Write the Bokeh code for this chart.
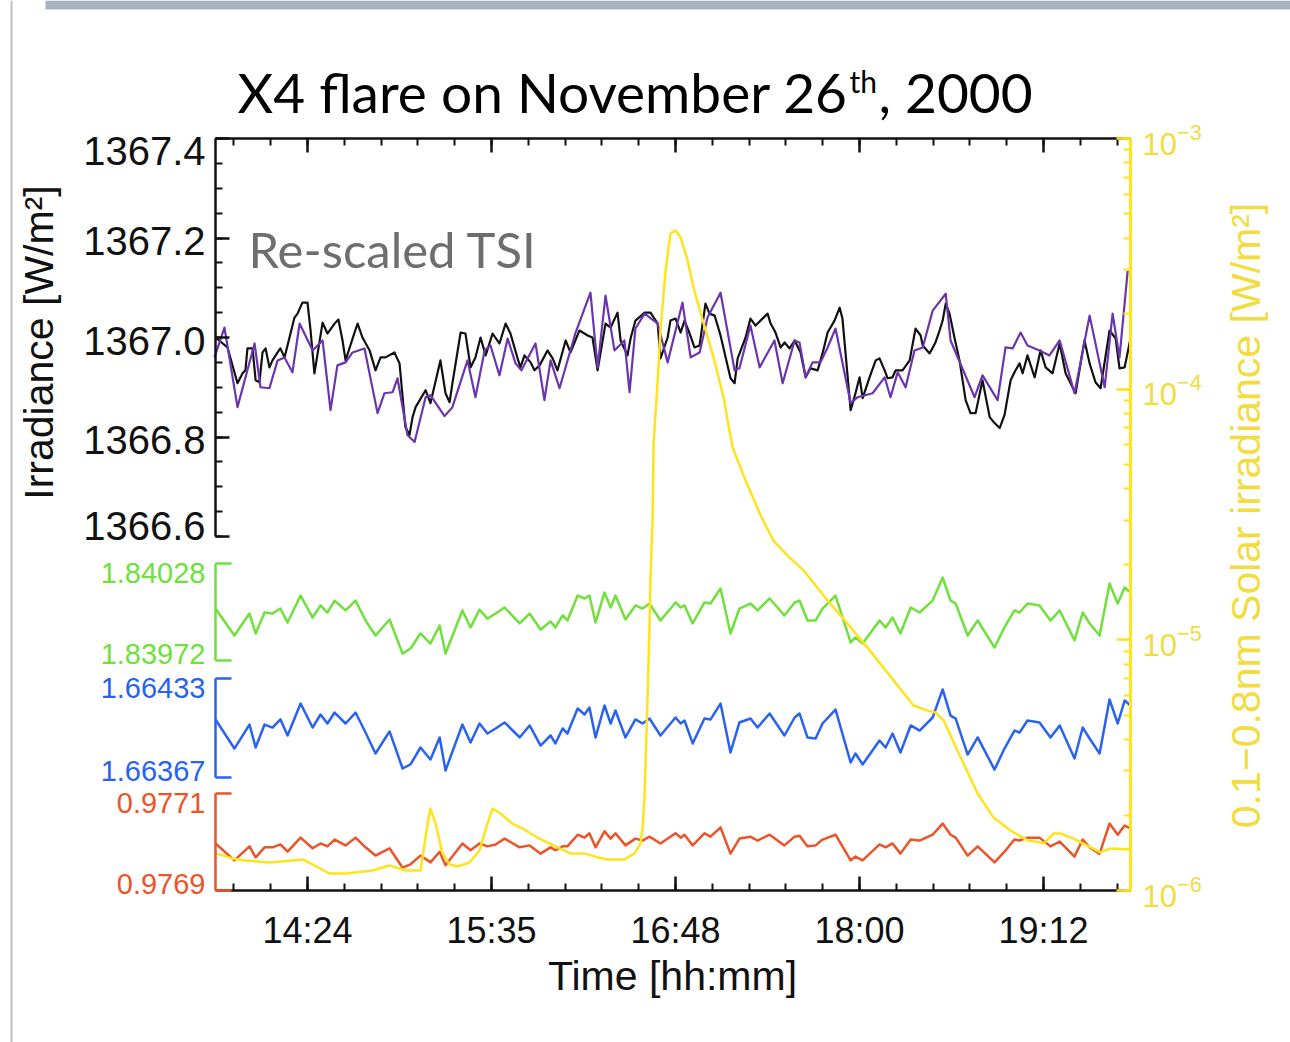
import numpy as np
from bokeh.plotting import figure
from bokeh.models import (Range1d, LinearAxis, LogAxis, LogScale, FixedTicker,
                          LogTicker, Label, CustomJSTickFormatter, Span,
                          BoxAnnotation)
from bokeh.embed import file_html
from bokeh.resources import INLINE

# ---------------- data (time in minutes after 00:00 UT) ----------------
TIME_TICKS = [864, 936, 1008, 1080, 1152]
TIME_LABELS = ["14:24", "15:35", "16:48", "18:00", "19:12"]
TSI_TICKS = [1366.6, 1366.8, 1367.0, 1367.2, 1367.4]
TSI_LABELS = ["1366.6", "1366.8", "1367.0", "1367.2", "1367.4"]
GREEN_TICKS = [1.83972, 1.84028]
GREEN_LABELS = ["1.83972", "1.84028"]
BLUE_TICKS = [1.66367, 1.66433]
BLUE_LABELS = ["1.66367", "1.66433"]
RED_TICKS = [0.9769, 0.9771]
RED_LABELS = ["0.9769", "0.9771"]
XRAY_LIMITS = [1e-6, 1e-3]

tsi_time = [
    828.0, 832.7, 836.6, 838.6, 839.7, 840.5, 842.5, 843.7, 845.2, 846.4,
    847.6, 849.1, 850.3, 852.3, 853.4, 855.0, 858.9, 860.1, 862.0, 864.0,
    865.2, 866.7, 869.9, 871.8, 874.6, 876.1, 877.7, 878.9, 882.4, 883.6,
    885.5, 888.3, 890.6, 892.6, 894.5, 898.0, 900.0, 902.3, 903.9, 905.1,
    906.3, 910.2, 912.1, 916.0, 918.0, 919.6, 920.7, 923.9, 925.8, 927.8,
    929.7, 931.7, 933.7, 936.4, 939.1, 941.5, 943.4, 946.2, 947.3, 948.9,
    951.3, 952.8, 954.8, 957.9, 959.9, 961.8, 965.0, 966.9, 970.4, 973.6,
    975.5, 977.5, 980.6, 982.6, 985.3, 986.5, 989.2, 990.4, 992.3, 995.9,
    998.2, 1001.0, 1002.1, 1004.9, 1006.0, 1008.0, 1010.0, 1011.5, 1013.5, 1015.4,
    1017.4, 1019.7, 1021.3, 1023.3, 1025.6, 1029.5, 1031.1, 1032.3, 1035.4, 1037.3,
    1039.3, 1044.0, 1045.2, 1047.1, 1049.1, 1050.7, 1052.6, 1054.6, 1056.9, 1058.9,
    1060.8, 1063.6, 1065.5, 1067.5, 1070.2, 1072.2, 1073.3, 1076.5, 1078.4, 1080.0,
    1081.2, 1083.9, 1086.3, 1087.8, 1089.8, 1091.0, 1092.9, 1094.1, 1096.8, 1099.6,
    1101.9, 1103.9, 1104.7, 1107.4, 1109.7, 1111.3, 1112.5, 1113.7, 1115.2, 1117.2,
    1119.1, 1121.5, 1123.4, 1125.4, 1128.1, 1130.9, 1132.8, 1134.8, 1136.7, 1139.1,
    1141.0, 1142.6, 1143.8, 1145.7, 1148.5, 1150.8, 1152.8, 1155.5, 1158.3, 1160.6,
    1164.5, 1168.0, 1170.0, 1172.3, 1174.3, 1177.8, 1180.2, 1181.7, 1183.7, 1186.0]
tsi_value = [
    1367.000, 1366.980, 1366.908, 1366.928, 1366.934, 1366.978, 1366.978, 1366.914, 1366.910, 1366.970,
    1366.978, 1366.940, 1366.954, 1366.970, 1366.978, 1366.960, 1367.040, 1367.048, 1367.070, 1367.070,
    1367.014, 1366.928, 1367.030, 1367.008, 1367.028, 1367.036, 1366.994, 1366.954, 1367.010, 1367.028,
    1367.000, 1366.974, 1366.934, 1366.960, 1366.960, 1366.970, 1366.948, 1366.820, 1366.804, 1366.840,
    1366.860, 1366.894, 1366.868, 1366.954, 1366.888, 1366.870, 1366.908, 1367.010, 1367.008, 1366.940,
    1366.960, 1367.000, 1366.964, 1367.008, 1366.988, 1367.028, 1367.008, 1366.958, 1366.940, 1366.964,
    1366.950, 1366.934, 1366.944, 1366.974, 1366.958, 1366.934, 1366.994, 1366.970, 1367.014, 1367.004,
    1367.000, 1366.934, 1367.028, 1367.020, 1367.050, 1366.994, 1366.964, 1366.998, 1367.034, 1367.050,
    1367.050, 1367.028, 1366.958, 1367.000, 1367.034, 1367.038, 1367.010, 1367.034, 1367.008, 1366.980,
    1366.984, 1367.068, 1367.048, 1367.044, 1367.004, 1366.918, 1366.908, 1366.958, 1367.000, 1367.038,
    1367.024, 1367.048, 1367.028, 1367.010, 1366.980, 1366.990, 1366.978, 1366.994, 1366.970, 1366.920,
    1366.938, 1366.934, 1366.968, 1367.010, 1367.034, 1367.060, 1367.038, 1366.854, 1366.888, 1366.920,
    1366.878, 1366.920, 1366.954, 1366.958, 1366.934, 1366.918, 1366.920, 1366.934, 1366.934, 1366.954,
    1367.018, 1367.004, 1366.984, 1366.968, 1366.990, 1367.014, 1367.034, 1367.068, 1367.048, 1366.998,
    1366.954, 1366.874, 1366.848, 1366.848, 1366.914, 1366.840, 1366.828, 1366.818, 1366.844, 1366.914,
    1366.934, 1366.948, 1366.928, 1366.964, 1366.920, 1366.974, 1366.940, 1366.928, 1366.988, 1366.928,
    1366.888, 1366.994, 1366.948, 1366.910, 1366.898, 1367.014, 1366.998, 1366.938, 1366.940, 1366.998]

rescaled_time = [
    827.6, 831.5, 836.6, 843.3, 845.6, 849.1, 852.3, 855.0, 858.1, 860.9,
    866.0, 869.9, 873.0, 875.7, 878.9, 881.6, 886.3, 891.4, 894.1, 897.3,
    899.2, 903.1, 905.9, 910.2, 912.1, 917.6, 920.7, 926.6, 929.7, 933.3,
    935.6, 939.1, 942.3, 945.4, 947.7, 953.2, 956.7, 959.1, 962.6, 968.9,
    974.7, 977.5, 980.6, 984.1, 988.0, 990.0, 992.3, 995.9, 1001.0, 1004.9,
    1010.7, 1013.9, 1017.4, 1020.5, 1025.6, 1031.1, 1033.0, 1037.3, 1040.9, 1046.7,
    1049.9, 1054.6, 1056.5, 1058.9, 1061.6, 1064.7, 1067.5, 1070.6, 1076.5, 1079.2,
    1085.1, 1089.8, 1092.1, 1094.9, 1098.0, 1101.5, 1104.7, 1108.6, 1113.7, 1115.6,
    1125.0, 1128.1, 1134.0, 1137.1, 1139.9, 1143.0, 1145.7, 1150.4, 1154.3, 1158.3,
    1164.1, 1170.0, 1175.9, 1179.0, 1181.7, 1184.9]
rescaled_value = [
    1366.960, 1367.020, 1366.860, 1366.988, 1366.900, 1366.898, 1366.954, 1366.960, 1366.930, 1367.028,
    1366.974, 1366.994, 1366.854, 1366.944, 1366.950, 1366.970, 1366.978, 1366.848, 1366.888, 1366.890,
    1366.918, 1366.804, 1366.790, 1366.880, 1366.884, 1366.842, 1366.860, 1366.954, 1366.880, 1366.974,
    1366.984, 1366.924, 1366.998, 1366.948, 1366.934, 1366.988, 1366.874, 1366.954, 1366.898, 1367.010,
    1367.090, 1366.940, 1367.084, 1366.974, 1366.994, 1366.890, 1367.018, 1367.048, 1367.028, 1366.950,
    1367.070, 1366.960, 1366.970, 1367.040, 1367.090, 1366.934, 1366.938, 1367.024, 1366.940, 1366.994,
    1366.908, 1366.994, 1366.990, 1366.920, 1366.950, 1366.950, 1366.980, 1367.018, 1366.868, 1366.880,
    1366.888, 1366.920, 1366.880, 1366.930, 1366.900, 1366.974, 1366.980, 1367.054, 1367.088, 1366.994,
    1366.880, 1366.924, 1366.874, 1366.980, 1366.978, 1367.010, 1366.984, 1366.974, 1366.964, 1366.994,
    1366.888, 1367.044, 1366.900, 1367.048, 1366.960, 1367.134]

spm_time = [
    828.0, 835.4, 841.3, 843.7, 847.2, 850.3, 853.4, 856.2, 861.3, 866.0,
    869.1, 871.8, 874.6, 878.9, 882.8, 886.7, 890.6, 896.1, 901.2, 904.3,
    908.2, 912.1, 915.7, 918.0, 924.6, 927.8, 931.3, 934.4, 937.6, 941.1,
    947.0, 950.9, 955.2, 959.1, 961.0, 963.8, 965.7, 969.7, 972.4, 974.3,
    976.7, 980.2, 982.6, 984.5, 988.4, 992.3, 995.1, 997.8, 1002.1, 1008.0,
    1010.0, 1011.5, 1014.7, 1019.3, 1021.7, 1025.6, 1029.5, 1033.0, 1037.3, 1040.1,
    1044.8, 1050.6, 1054.6, 1056.5, 1059.6, 1062.8, 1065.5, 1070.6, 1076.5, 1078.4,
    1081.2, 1087.8, 1090.2, 1092.9, 1096.0, 1100.0, 1103.5, 1108.6, 1112.5, 1115.6,
    1117.6, 1122.3, 1126.2, 1132.8, 1136.7, 1140.6, 1142.6, 1145.7, 1150.4, 1154.7,
    1158.3, 1164.1, 1167.3, 1170.0, 1173.9, 1177.8, 1181.0, 1183.7, 1186.0]
green_value = [
    1.840020, 1.839864, 1.839991, 1.839876, 1.839997, 1.839991, 1.840020, 1.839939, 1.840095, 1.839968,
    1.840038, 1.839997, 1.840066, 1.840009, 1.840066, 1.839951, 1.839864, 1.839957, 1.839760, 1.839789,
    1.839876, 1.839818, 1.839922, 1.839760, 1.840009, 1.839911, 1.840014, 1.839962, 1.839991, 1.840026,
    1.839934, 1.839991, 1.839899, 1.839945, 1.839911, 1.839980, 1.839951, 1.840095, 1.840078, 1.840095,
    1.839939, 1.840113, 1.840026, 1.840095, 1.839957, 1.840038, 1.840020, 1.840049, 1.839951, 1.840055,
    1.840026, 1.840038, 1.839934, 1.840055, 1.840049, 1.840136, 1.839876, 1.840020, 1.840049, 1.840009,
    1.840078, 1.839980, 1.840055, 1.840066, 1.839951, 1.839951, 1.840020, 1.840095, 1.839824, 1.839853,
    1.839818, 1.839951, 1.839911, 1.839968, 1.839876, 1.840026, 1.839997, 1.840066, 1.840199, 1.840066,
    1.840049, 1.839864, 1.839951, 1.839795, 1.839911, 1.840009, 1.839997, 1.840049, 1.840038, 1.839951,
    1.840009, 1.839836, 1.839997, 1.839934, 1.839864, 1.840165, 1.840049, 1.840141, 1.840113]
blue_value = [
    1.664057, 1.663863, 1.664023, 1.663870, 1.664023, 1.664003, 1.664057, 1.663950, 1.664163, 1.664003,
    1.664090, 1.664030, 1.664103, 1.664030, 1.664103, 1.663970, 1.663830, 1.663977, 1.663730, 1.663757,
    1.663870, 1.663790, 1.663937, 1.663717, 1.664023, 1.663903, 1.664030, 1.663963, 1.663997, 1.664037,
    1.663937, 1.664017, 1.663883, 1.663950, 1.663897, 1.663997, 1.663963, 1.664130, 1.664090, 1.664137,
    1.663937, 1.664150, 1.664030, 1.664117, 1.663937, 1.664057, 1.664030, 1.664063, 1.663950, 1.664070,
    1.664030, 1.664050, 1.663897, 1.664063, 1.664057, 1.664163, 1.663837, 1.664037, 1.664063, 1.664003,
    1.664097, 1.663950, 1.664070, 1.664097, 1.663937, 1.663930, 1.664030, 1.664123, 1.663770, 1.663830,
    1.663757, 1.663917, 1.663870, 1.663963, 1.663837, 1.664017, 1.663983, 1.664070, 1.664257, 1.664083,
    1.664063, 1.663823, 1.663937, 1.663723, 1.663863, 1.663983, 1.663970, 1.664050, 1.664037, 1.663937,
    1.664017, 1.663797, 1.664003, 1.663930, 1.663830, 1.664190, 1.664030, 1.664183, 1.664150]
red_value = [
    0.976997, 0.976962, 0.976991, 0.976968, 0.976989, 0.976989, 0.976995, 0.976980, 0.977009, 0.976987,
    0.976997, 0.976991, 0.977005, 0.976993, 0.977009, 0.976989, 0.976972, 0.976987, 0.976947, 0.976954,
    0.976972, 0.976958, 0.976980, 0.976952, 0.976997, 0.976983, 0.976997, 0.976991, 0.976995, 0.977007,
    0.976989, 0.976993, 0.976976, 0.976989, 0.976983, 0.976991, 0.976991, 0.977015, 0.977009, 0.977018,
    0.976989, 0.977022, 0.977007, 0.977018, 0.976993, 0.977007, 0.977003, 0.977011, 0.976997, 0.977018,
    0.977009, 0.977015, 0.976993, 0.977018, 0.977011, 0.977030, 0.976976, 0.977007, 0.977011, 0.977003,
    0.977015, 0.976993, 0.977011, 0.977013, 0.976991, 0.976993, 0.977005, 0.977015, 0.976962, 0.976970,
    0.976962, 0.976995, 0.976989, 0.976997, 0.976976, 0.977005, 0.977003, 0.977015, 0.977038, 0.977015,
    0.977009, 0.976972, 0.976991, 0.976958, 0.976980, 0.977005, 0.977003, 0.977009, 0.977009, 0.976991,
    0.977001, 0.976970, 0.977005, 0.976989, 0.976976, 0.977038, 0.977015, 0.977034, 0.977028]

xray_time = [
    828.0, 834.7, 839.7, 849.1, 862.0, 866.0, 872.6, 878.9, 889.4, 896.1,
    902.3, 908.2, 911.0, 912.1, 914.1, 916.8, 919.6, 922.7, 927.4, 931.3,
    934.4, 936.4, 939.5, 944.2, 948.1, 954.0, 961.8, 966.9, 972.4, 977.5,
    981.4, 988.0, 992.0, 994.3, 995.1, 995.9, 996.7, 997.8, 998.2, 999.0,
    999.4, 1001.0, 1002.1, 1004.1, 1006.0, 1008.0, 1010.0, 1012.7, 1015.0, 1019.0,
    1022.9, 1026.8, 1030.3, 1035.4, 1041.3, 1046.3, 1052.2, 1058.1, 1067.5, 1075.3,
    1083.1, 1093.3, 1101.1, 1106.6, 1109.7, 1112.9, 1119.5, 1126.2, 1132.4, 1139.1,
    1145.7, 1152.0, 1155.9, 1158.7, 1163.7, 1170.4, 1174.3, 1178.2, 1186.0]
xray_flux = [
    1.406e-6, 1.343e-6, 1.318e-6, 1.294e-6, 1.330e-6, 1.270e-6, 1.169e-6, 1.169e-6, 1.202e-6, 1.259e-6,
    1.202e-6, 1.202e-6, 1.849e-6, 2.123e-6, 1.849e-6, 1.406e-6, 1.270e-6, 1.247e-6, 1.294e-6, 1.445e-6,
    1.849e-6, 2.123e-6, 2.028e-6, 1.849e-6, 1.767e-6, 1.627e-6, 1.485e-6, 1.406e-6, 1.406e-6, 1.355e-6,
    1.330e-6, 1.330e-6, 1.406e-6, 1.542e-6, 1.783e-6, 2.438e-6, 4.470e-6, 1.120e-5, 1.774e-5, 2.992e-5,
    6.073e-5, 1.083e-4, 1.714e-4, 2.974e-4, 4.178e-4, 4.295e-4, 4.027e-4, 3.262e-4, 2.545e-4, 1.828e-4,
    1.337e-4, 9.26e-5, 5.85e-5, 4.325e-5, 3.133e-5, 2.489e-5, 2.148e-5, 1.892e-5, 1.435e-5, 1.161e-5,
    9.31e-6, 6.89e-6, 5.47e-6, 5.22e-6, 5.13e-6, 4.77e-6, 3.40e-6, 2.438e-6, 1.954e-6, 1.734e-6,
    1.585e-6, 1.542e-6, 1.687e-6, 1.687e-6, 1.611e-6, 1.485e-6, 1.419e-6, 1.472e-6, 1.459e-6]

# ---------------- styling / layout ----------------
BLACK = "#111111"
PURPLE = "#6b36ad"
GREEN = "#6fe03c"
BLUE = "#2a62f0"
RED = "#ea5428"
YEL = "#ffe31c"
YEL_TXT = "#f2dc3e"
AX_FONT = "Liberation Sans"
TITLE_FONT = "Lato"

W, H = 1290, 1042
X0, X1 = 828.0, 1186.0
PX_L, PX_R, PX_T, PX_B = 215, 1130, 138, 890   # data box on the canvas
MIN_PER_PX = (X1 - X0) / (PX_R - PX_L)


def frac(y_px):
    return (H - y_px) / H


def band(lo, hi, y_lo, y_hi):
    span = (hi - lo) / (frac(y_hi) - frac(y_lo))
    start = lo - frac(y_lo) * span
    return Range1d(start, start + span)


def log_band(lo, hi, y_lo, y_hi):
    llo, lhi = np.log10(lo), np.log10(hi)
    span = (lhi - llo) / (frac(y_hi) - frac(y_lo))
    start = llo - frac(y_lo) * span
    return Range1d(10 ** start, 10 ** (start + span))


def pairs(a, b):
    n = min(len(a), len(b))
    return list(a[:n]), list(b[:n])


x_range = Range1d(X0 - PX_L * MIN_PER_PX, X1 + (W - PX_R) * MIN_PER_PX)
tsi_range = band(TSI_TICKS[0], TSI_TICKS[-1], 536, PX_T)


def sx(x_px):
    return x_range.start + x_px * MIN_PER_PX


def sy(y_px):
    return tsi_range.start + frac(y_px) * (tsi_range.end - tsi_range.start)


p = figure(width=W, height=H, output_backend="svg", toolbar_location=None,
           x_range=x_range, y_range=tsi_range,
           x_axis_location=None, y_axis_location=None,
           min_border_left=0, min_border_right=0,
           min_border_top=0, min_border_bottom=0)
p.outline_line_color = None
p.background_fill_color = "white"
p.border_fill_color = "white"
p.grid.visible = False

p.extra_y_ranges = {
    "green": band(GREEN_TICKS[0], GREEN_TICKS[1], 660, 563),
    "blue": band(BLUE_TICKS[0], BLUE_TICKS[1], 777, 678),
    "red": band(RED_TICKS[0], RED_TICKS[1], PX_B, 793),
    "xray": log_band(XRAY_LIMITS[0], XRAY_LIMITS[1], PX_B, PX_T),
}
p.extra_y_scales = {"xray": LogScale()}

# slide frame decoration
p.add_layout(Span(location=sx(11), dimension="height", line_color="#bdbdbd", line_width=2))
p.add_layout(BoxAnnotation(bottom=sy(9), top=sy(0), left=sx(45), fill_color="#a9b3c0",
                           fill_alpha=1.0, line_alpha=0))


def style_axis(ax, color=BLACK):
    ax.axis_line_color = color
    ax.axis_line_width = 2.5
    ax.major_tick_line_color = color
    ax.minor_tick_line_color = color
    ax.major_tick_line_width = 2.5
    ax.minor_tick_line_width = 2
    ax.major_tick_in = 14
    ax.major_tick_out = 0
    ax.minor_tick_in = 7
    ax.minor_tick_out = 0
    ax.major_label_text_font = AX_FONT
    ax.major_label_text_color = color


blank = CustomJSTickFormatter(code="return ''")

# ---- time axes ----
minor_t = [float(v) for v in np.arange(X0 + 7.2, X1, 14.4)]
time_ticker = FixedTicker(ticks=TIME_TICKS, minor_ticks=minor_t)

xb = LinearAxis(y_range_name="red", fixed_location=RED_TICKS[0], bounds=(X0, X1),
                ticker=time_ticker,
                major_label_overrides=dict(zip(TIME_TICKS, TIME_LABELS)))
style_axis(xb)
xb.major_label_text_font_size = "36px"
xb.major_label_standoff = 19
p.add_layout(xb, "below")

xt = LinearAxis(fixed_location=TSI_TICKS[-1], bounds=(X0, X1), ticker=time_ticker,
                formatter=blank)
style_axis(xt)
p.add_layout(xt, "above")

# ---- TSI axis (labels placed IDL-style: end labels kept inside the range) ----
minor_tsi = [float(v) for v in np.arange(1366.6, 1367.401, 0.05)]
yl = LinearAxis(fixed_location=X0, bounds=(TSI_TICKS[0], TSI_TICKS[-1]),
                ticker=FixedTicker(ticks=TSI_TICKS, minor_ticks=minor_tsi),
                formatter=blank)
style_axis(yl)
p.add_layout(yl, "left")
for i, (val, txt) in enumerate(zip(TSI_TICKS, TSI_LABELS)):
    shift = 11 if i == 0 else (-12 if i == len(TSI_TICKS) - 1 else -3)
    p.add_layout(Label(x=X0, y=val, text=txt, x_offset=-10, y_offset=shift,
                       text_align="right", text_baseline="middle",
                       text_font=AX_FONT, text_font_size="40px", text_color=BLACK))

# ---- spectral channel bracket axes ----
for rng, ticks, labels, color in (("green", GREEN_TICKS, GREEN_LABELS, GREEN),
                                  ("blue", BLUE_TICKS, BLUE_LABELS, BLUE),
                                  ("red", RED_TICKS, RED_LABELS, RED)):
    ax = LinearAxis(y_range_name=rng, fixed_location=X0, bounds=(ticks[0], ticks[1]),
                    ticker=FixedTicker(ticks=ticks, minor_ticks=[]), formatter=blank)
    style_axis(ax, color)
    ax.major_tick_in = 16
    p.add_layout(ax, "left")
    p.add_layout(Label(x=X0, y=ticks[0], y_range_name=rng, text=labels[0],
                       x_offset=-10, y_offset=7, text_align="right",
                       text_baseline="middle", text_font=AX_FONT,
                       text_font_size="29px", text_color=color))
    p.add_layout(Label(x=X0, y=ticks[1], y_range_name=rng, text=labels[1],
                       x_offset=-10, y_offset=-9, text_align="right",
                       text_baseline="middle", text_font=AX_FONT,
                       text_font_size="29px", text_color=color))

# ---- X-ray log axis ----
yr = LogAxis(y_range_name="xray", fixed_location=X1,
             bounds=(XRAY_LIMITS[0], XRAY_LIMITS[1]),
             ticker=LogTicker(num_minor_ticks=10))
style_axis(yr, YEL)
yr.axis_line_width = 3
yr.major_label_text_color = YEL_TXT
yr.major_label_text_font_size = "31px"
yr.major_label_standoff = 12
p.add_layout(yr, "right")

# ---- axis titles ----
p.add_layout(Label(x=sx(38), y=sy(342), text="Irradiance [W/m²]", angle=np.pi / 2,
                   text_align="center", text_baseline="middle", text_font=AX_FONT,
                   text_font_size="41px", text_color=BLACK))
p.add_layout(Label(x=sx(672), y=sy(975), text="Time [hh:mm]",
                   text_align="center", text_baseline="middle", text_font=AX_FONT,
                   text_font_size="41px", text_color=BLACK))
p.add_layout(Label(x=sx(1245), y=sy(515), text="0.1\u22120.8nm Solar irradiance [W/m²]",
                   angle=np.pi / 2, text_align="center", text_baseline="middle",
                   text_font=AX_FONT, text_font_size="41px", text_color=YEL_TXT))

# ---- series ----
t, v = pairs(tsi_time, tsi_value)
p.line(t, v, line_color=BLACK, line_width=2.2, line_join="round")
t, v = pairs(rescaled_time, rescaled_value)
p.line(t, v, line_color=PURPLE, line_width=2.2, line_join="round")
t, v = pairs(spm_time, green_value)
p.line(t, v, line_color=GREEN, line_width=2.5, line_join="round", y_range_name="green")
t, v = pairs(spm_time, blue_value)
p.line(t, v, line_color=BLUE, line_width=2.5, line_join="round", y_range_name="blue")
t, v = pairs(spm_time, red_value)
p.line(t, v, line_color=RED, line_width=2.5, line_join="round", y_range_name="red")
t, v = pairs(xray_time, xray_flux)
p.line(t, v, line_color=YEL, line_width=2.5, line_join="round", y_range_name="xray")

# ---- texts ----
p.add_layout(Label(x=sx(248), y=sy(248), text="Re-scaled TSI", text_font=TITLE_FONT,
                   text_font_size="49px", text_color="#6e6e6e",
                   text_baseline="alphabetic"))
p.add_layout(Label(x=sx(237), y=sy(91), text="X4 flare on November 26",
                   text_font=TITLE_FONT, text_font_size="55px", text_color="black",
                   text_baseline="alphabetic"))
p.add_layout(Label(x=sx(849), y=sy(80), text="th", text_font=TITLE_FONT,
                   text_font_size="30px", text_color="black",
                   text_baseline="alphabetic"))
p.add_layout(Label(x=sx(878), y=sy(91), text=", 2000", text_font=TITLE_FONT,
                   text_font_size="55px", text_color="black",
                   text_baseline="alphabetic"))

open("out.html", "w").write(file_html(p, INLINE))
